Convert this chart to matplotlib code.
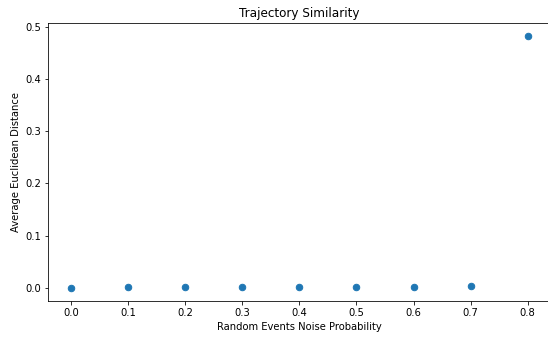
import numpy as np
import matplotlib
matplotlib.use("Agg")
import matplotlib.pyplot as plt

# noise probability vs. average euclidean distance between trajectories
noise_prob = [0.0, 0.1, 0.2, 0.3, 0.4, 0.5, 0.6, 0.7, 0.8]
avg_distance = [0.0, 0.0015, 0.0015, 0.0015, 0.0015, 0.0015, 0.0015, 0.0044, 0.483]

dpi = 72
fig = plt.figure(figsize=(548 / dpi, 339 / dpi), dpi=dpi)
ax = fig.add_axes([48.3 / 548, 1 - 300.6 / 339, (550.5 - 48.3) / 548, (300.6 - 22.9) / 339])

ax.scatter(noise_prob, avg_distance, s=42)

ax.set_title("Trajectory Similarity")
ax.set_xlabel("Random Events Noise Probability")
ax.set_ylabel("Average Euclidean Distance")

fig.savefig("out.png", dpi=dpi)
